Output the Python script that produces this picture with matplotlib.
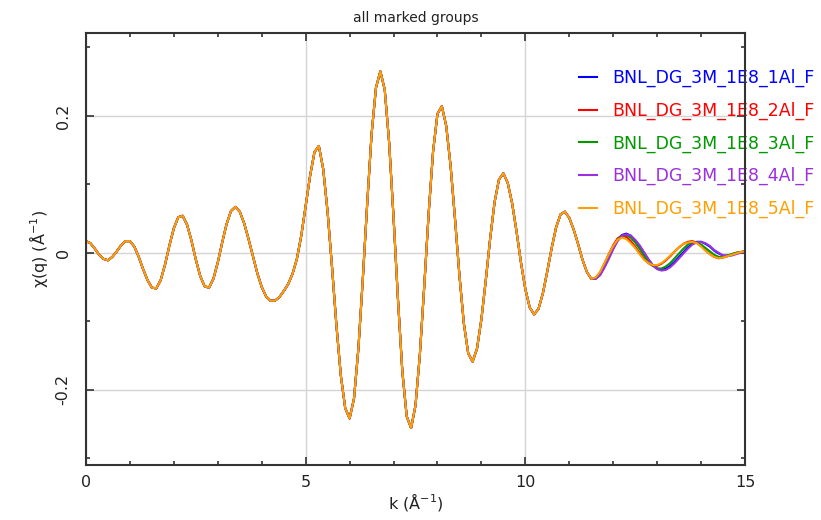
import numpy as np
import matplotlib
matplotlib.use("Agg")
import matplotlib.pyplot as plt

plt.rcParams['font.family'] = ['DejaVu Sans']
plt.rcParams['axes.unicode_minus'] = False

# k grid (Å^-1), step 0.1 from 0 to 15
k = np.linspace(0.0, 15.0, 151)

# common part of chi(k) for k = 0.0 ... 11.5 (all groups overlap here)
chi_common = [
    0.017, 0.014, 0.006, -0.003, -0.009, -0.011, -0.006, 0.002, 0.011, 0.017,
    0.017, 0.009, -0.006, -0.024, -0.040, -0.051, -0.052, -0.040, -0.017, 0.011,
    0.036, 0.052, 0.054, 0.041, 0.018, -0.010, -0.034, -0.049, -0.051, -0.038,
    -0.014, 0.015, 0.042, 0.061, 0.067, 0.060, 0.043, 0.020, -0.005, -0.030,
    -0.050, -0.064, -0.070, -0.070, -0.065, -0.056, -0.046, -0.031, -0.009, 0.025,
    0.068, 0.112, 0.147, 0.156, 0.122, 0.059, -0.021, -0.106, -0.179, -0.227,
    -0.242, -0.213, -0.140, -0.039, 0.071, 0.173, 0.241, 0.265, 0.238, 0.161,
    0.052, -0.067, -0.173, -0.239, -0.256, -0.223, -0.148, -0.048, 0.058, 0.148,
    0.203, 0.214, 0.185, 0.126, 0.049, -0.033, -0.103, -0.147, -0.159, -0.140,
    -0.097, -0.040, 0.021, 0.074, 0.107, 0.116, 0.102, 0.072, 0.031, -0.014,
    -0.053, -0.080, -0.090, -0.082, -0.059, -0.027, 0.007, 0.037, 0.056, 0.060,
    0.051, 0.034, 0.013, -0.010, -0.028, -0.038,
]

# tails for k = 11.6 ... 15.0 where the groups separate
tail_1 = [-0.038, -0.032, -0.020, -0.007, 0.007, 0.019, 0.026, 0.028, 0.025, 0.018,
          0.010, 0.000, -0.010, -0.018, -0.023, -0.025, -0.023, -0.019, -0.013, -0.006,
          0.001, 0.008, 0.013, 0.016, 0.016, 0.013, 0.009, 0.003, -0.001, -0.004,
          -0.004, -0.003, -0.001, 0.001, 0.002]
tail_2 = [-0.037, -0.029, -0.016, -0.002, 0.011, 0.021, 0.025, 0.023, 0.017, 0.009,
          0.000, -0.009, -0.015, -0.019, -0.019, -0.016, -0.011, -0.005, 0.002, 0.008,
          0.013, 0.016, 0.017, 0.015, 0.010, 0.004, -0.002, -0.006, -0.008, -0.007,
          -0.005, -0.002, 0.000, 0.001, 0.002]
tail_3 = [-0.038, -0.031, -0.019, -0.006, 0.008, 0.019, 0.025, 0.026, 0.022, 0.015,
          0.006, -0.004, -0.013, -0.019, -0.023, -0.023, -0.020, -0.015, -0.008, -0.001,
          0.006, 0.012, 0.015, 0.015, 0.012, 0.007, 0.002, -0.003, -0.006, -0.006,
          -0.004, -0.002, 0.000, 0.001, 0.002]
tail_4 = [-0.038, -0.033, -0.022, -0.009, 0.005, 0.017, 0.025, 0.027, 0.025, 0.019,
          0.011, 0.001, -0.009, -0.018, -0.024, -0.026, -0.025, -0.021, -0.015, -0.008,
          -0.001, 0.006, 0.012, 0.015, 0.016, 0.014, 0.010, 0.004, 0.000, -0.004,
          -0.005, -0.004, -0.002, 0.000, 0.002]
tail_5 = [-0.036, -0.028, -0.015, -0.002, 0.010, 0.019, 0.022, 0.020, 0.014, 0.007,
          -0.002, -0.010, -0.015, -0.018, -0.018, -0.015, -0.010, -0.004, 0.002, 0.008,
          0.013, 0.015, 0.016, 0.014, 0.009, 0.003, -0.002, -0.006, -0.008, -0.007,
          -0.005, -0.003, -0.001, 0.001, 0.002]

labels = ["BNL_DG_3M_1E8_1Al_F", "BNL_DG_3M_1E8_2Al_F", "BNL_DG_3M_1E8_3Al_F",
          "BNL_DG_3M_1E8_4Al_F", "BNL_DG_3M_1E8_5Al_F"]
colors = ["#0000ff", "#ff0000", "#009900", "#9a30e0", "#ffa000"]
tails = [tail_1, tail_2, tail_3, tail_4, tail_5]

fig = plt.figure(figsize=(8.21, 5.20), dpi=100)
ax = fig.add_axes([86/821, 1-465/520, (745-86)/821, (465-33)/520])

for lab, col, tail in zip(labels, colors, tails):
    ax.plot(k, chi_common + tail, color=col, lw=1.5, label=lab,
            solid_joinstyle='round')

ax.set_xlim(0, 15)
ax.set_ylim(-0.31, 0.321)
ax.set_xticks([0, 5, 10, 15])
ax.set_xticks(np.arange(0, 16, 1), minor=True)
ax.set_yticks([-0.2, 0, 0.2])
ax.set_yticklabels(["-0.2", "0", "0.2"])
ax.set_yticks([-0.3, -0.1, 0.1, 0.3], minor=True)
ax.grid(True, which='major', color='#d4d4d4', lw=1.0)
ax.set_axisbelow(True)
ax.tick_params(which='both', direction='in', top=True, right=True, colors='#333333',
               labelcolor='#222222', labelsize=11.5)
ax.tick_params(which='major', length=6, width=1.2)
ax.tick_params(which='minor', length=3, width=1.2)
ax.tick_params(axis='x', pad=7)
ax.tick_params(axis='y', labelrotation=90, pad=11)
for lbl in ax.get_yticklabels():
    lbl.set_verticalalignment('center')
for s in ax.spines.values():
    s.set_color('#333333')
    s.set_linewidth(1.5)

ax.set_title("all marked groups", fontsize=10, pad=8, color='#222222')
ax.set_xlabel("k (Å$^{-1}$)", fontsize=11.5, color='#222222', labelpad=1)
ax.set_ylabel("χ(q) (Å$^{-1}$)", fontsize=11.5, color='#222222', labelpad=4)

leg = ax.legend(loc='upper left', bbox_to_anchor=(579/821, 1-69/520),
                bbox_transform=fig.transFigure, frameon=False, fontsize=12.5,
                labelcolor='linecolor', handlelength=1.05, handletextpad=0.85,
                borderpad=0, borderaxespad=0, labelspacing=0.83)
leg.set_zorder(2)

fig.savefig("out.png", dpi=100)
